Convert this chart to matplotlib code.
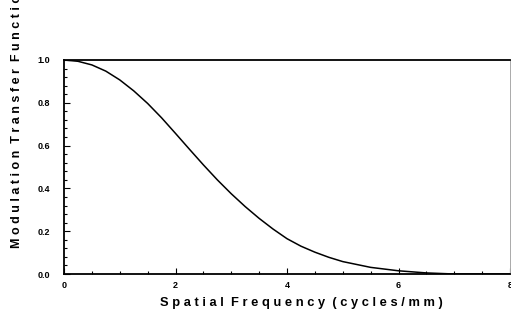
import matplotlib.pyplot as plt
from matplotlib.ticker import MultipleLocator, FormatStrFormatter
import matplotlib as mpl

mpl.rcParams['font.family'] = 'Liberation Sans'

# values
freq = [0, 0.25, 0.5, 0.75, 1.0, 1.25, 1.5, 1.75, 2.0, 2.25, 2.5, 2.75, 3.0,
        3.25, 3.5, 3.75, 4.0, 4.25, 4.5, 4.75, 5.0, 5.5, 6.0, 6.5, 7.0, 7.5, 8.0]
mtf = [1.0, 0.994, 0.977, 0.948, 0.907, 0.856, 0.797, 0.730, 0.657, 0.583, 0.51, 0.44, 0.375,
       0.315, 0.26, 0.21, 0.165, 0.13, 0.102, 0.078, 0.058, 0.031, 0.015, 0.005, 0.0, 0.0, 0.0]

x_label = 'Spatial Frequency (cycles/mm)'
y_label = 'Modulation Transfer Function'


def spaced(s):
    # the scanned figure uses wide letter spacing
    return ' '.join(s).replace('   ', '  ')


fig = plt.figure(figsize=(5.11, 3.09), dpi=100)
ax = fig.add_axes([64 / 511, 35 / 309, 446 / 511, 214 / 309])

ax.plot(freq, mtf, color='black', lw=1.1, zorder=3)

ax.set_xlim(0, 8)
ax.set_ylim(0, 1.0)
ax.xaxis.set_major_locator(MultipleLocator(2))
ax.xaxis.set_minor_locator(MultipleLocator(0.5))
ax.yaxis.set_major_locator(MultipleLocator(0.2))
ax.yaxis.set_minor_locator(MultipleLocator(0.04))
ax.xaxis.set_major_formatter(FormatStrFormatter('%d'))
ax.yaxis.set_major_formatter(FormatStrFormatter('%.1f'))

ax.tick_params(which='both', direction='in', labelsize=6.5, width=0.8)
ax.tick_params(which='major', length=4)
ax.tick_params(which='minor', length=2.5)
ax.tick_params(axis='x', pad=5)
ax.tick_params(axis='y', pad=10)
for lab in ax.get_xticklabels() + ax.get_yticklabels():
    lab.set_fontweight('bold')

for side in ['left', 'bottom', 'top']:
    ax.spines[side].set_linewidth(1.3)
ax.spines['right'].set_color('#aaaaaa')
ax.spines['right'].set_linewidth(0.7)

fig.text(301 / 511, 1 - 303 / 309, spaced(x_label), ha='center', va='center',
         fontsize=9.3, fontweight='bold')
fig.text(17 / 511, 1 - 248 / 309, spaced(y_label), ha='center', va='bottom',
         rotation=90, fontsize=9.0, fontweight='bold')

plt.savefig('out.png', dpi=100)
plt.close()
